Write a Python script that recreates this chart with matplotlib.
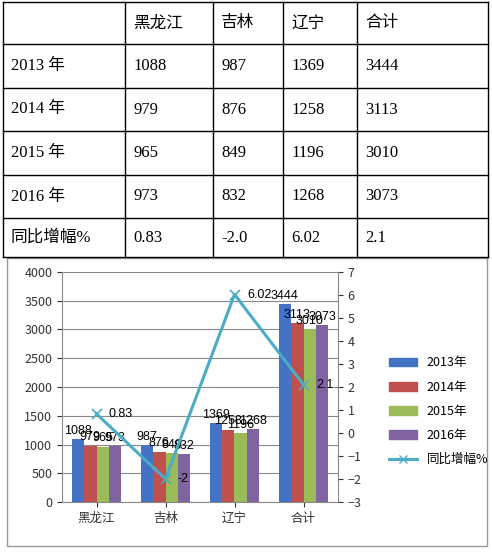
import matplotlib.pyplot as plt
import numpy as np
from matplotlib.lines import Line2D
from matplotlib.patches import Patch, Rectangle

plt.rcParams['font.family'] = ['Noto Sans CJK SC', 'DejaVu Sans']

regions = ["黑龙江", "吉林", "辽宁", "合计"]
years = ["2013年", "2014年", "2015年", "2016年"]
row_labels = ["2013 年", "2014 年", "2015 年", "2016 年", "同比增幅%"]
v2013 = [1088, 987, 1369, 3444]
v2014 = [979, 876, 1258, 3113]
v2015 = [965, 849, 1196, 3010]
v2016 = [973, 832, 1268, 3073]
growth = [0.83, -2.0, 6.02, 2.1]
growth_text = ["0.83", "-2.0", "6.02", "2.1"]
growth_lbl = ["0.83", "-2", "6.02", "2.1"]

W, H = 492, 553
fig = plt.figure(figsize=(W / 100, H / 100), dpi=100)

# table drawn in pixel coordinates
tab = fig.add_axes([0, 0, 1, 1])
tab.set_xlim(0, W)
tab.set_ylim(H, 0)
tab.axis("off")
cols = [3, 125, 213, 283, 357, 488]
rows = [2, 44, 88, 131, 175, 218, 257]
for x in cols:
    tab.plot([x, x], [rows[0], rows[-1]], color="black", lw=1)
for y in rows:
    tab.plot([cols[0], cols[-1]], [y, y], color="black", lw=1)
series = [v2013, v2014, v2015, v2016]
for j, r in enumerate(regions):
    tab.text(cols[j + 1] + 8, (rows[0] + rows[1]) / 2, r, fontsize=12, va="center")
for i, lab in enumerate(row_labels):
    yc = (rows[i + 1] + rows[i + 2]) / 2
    tab.text(cols[0] + 8, yc, lab, fontsize=12, va="center", family=["Liberation Serif", "Noto Sans CJK SC"])
    for j in range(4):
        val = str(series[i][j]) if i < 4 else growth_text[j]
        tab.text(cols[j + 1] + 8, yc, val, fontsize=12, va="center", family="Liberation Serif")
tab.add_patch(Rectangle((7, 258), 480, 288, fill=False, ec="#999999", lw=1))

# chart
ax = fig.add_axes([62 / W, 1 - 502 / H, 276 / W, 230 / H])
colors = ["#4472C4", "#C0504D", "#9BBB59", "#8064A2"]
x = np.arange(len(regions))
w = 0.18
for k, (s, c) in enumerate(zip(series, colors)):
    pos = x + (k - 1.5) * w
    ax.bar(pos, s, w, color=c, label=years[k])
    for p, v in zip(pos, s):
        ax.text(p, v + 40, str(v), ha="center", va="bottom", fontsize=9, family="Liberation Sans")
ax.set_ylim(0, 4000)
ax.set_yticks(range(0, 4001, 500))
ax.set_xlim(-0.5, 3.5)
ax.set_xticks(x)
ax.set_xticklabels(regions, fontsize=10)
ax.yaxis.grid(True, color="#888888", lw=0.8)
ax.set_axisbelow(True)
for s in ["top", "right"]:
    ax.spines[s].set_visible(False)
ax.spines["left"].set_color("#888888")
ax.spines["bottom"].set_color("#888888")
ax.tick_params(labelsize=9, colors="#333333")

ax2 = ax.twinx()
ax2.plot(x, growth, color="#4BACC6", lw=2.2, marker="x", ms=7, mew=1.2)
for xi, g, t in zip(x, growth, growth_lbl):
    ax2.text(xi + 0.18, g, t, fontsize=9, va="center", family="Liberation Sans")
ax2.set_ylim(-3, 7)
ax2.set_yticks(range(-3, 8))
for s in ["top", "left", "bottom"]:
    ax2.spines[s].set_visible(False)
ax2.spines["right"].set_color("#888888")
ax2.tick_params(labelsize=9, colors="#333333")

handles = [Patch(color=c) for c in colors] + [Line2D([], [], color="#4BACC6", lw=2.2, marker="x")]
fig.legend(handles, years + ["同比增幅%"], loc="upper left", bbox_to_anchor=(378 / W, 1 - 345 / H),
           frameon=False, fontsize=9, labelspacing=0.9, handlelength=2.2)

fig.savefig("out.png", dpi=100)
